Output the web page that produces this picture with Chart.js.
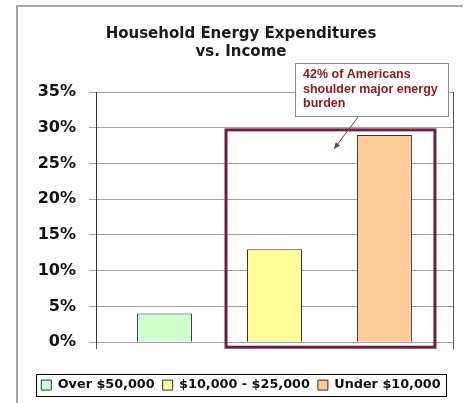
<!DOCTYPE html>
<html><head><meta charset="utf-8">
<script src="https://cdn.jsdelivr.net/npm/chart.js@4/dist/chart.umd.min.js"></script>
<style>html,body{margin:0;padding:0;background:#fff;}#wrap{width:465px;height:403px;}</style>
</head><body><div id="wrap"><canvas id="c" width="465" height="403"></canvas></div>
<script>
const categories = [''];
const seriesNames = ['Over $50,000', '$10,000 - $25,000', 'Under $10,000'];
const seriesValues = [[4], [13], [29]];
const seriesColors = ['#ccffcc', '#ffff99', '#ffcc99'];
const yMin = 0, yMax = 35, yStep = 5;
const titleLines = ['Household Energy Expenditures', 'vs. Income'];
const noteLines = ['42% of Americans', 'shoulder major energy', 'burden'];

const FONT = '"DejaVu Sans", sans-serif';

const decor = {
  id: 'decor',
  beforeDraw(chart) {
    const ctx = chart.ctx;
    ctx.save();
    ctx.fillStyle = '#fff';
    ctx.fillRect(0, 0, chart.width, chart.height);
    ctx.strokeStyle = '#a8a8a8';
    ctx.lineWidth = 2;
    ctx.beginPath();
    ctx.moveTo(17, chart.height); ctx.lineTo(17, 6); ctx.lineTo(463, 6);
    ctx.stroke();
    ctx.restore();
  },
  afterDraw(chart) {
    const ctx = chart.ctx;
    const ca = chart.chartArea;
    const y = chart.scales.y;
    const b1 = chart.getDatasetMeta(1).data[0];
    const b2 = chart.getDatasetMeta(2).data[0];
    ctx.save();
    // highlight rectangle around the two lower-income bars
    const hl = b1.x - b1.width / 2 - 21;
    const hr = b2.x + b2.width / 2 + 23;
    const ht = b2.y - 5;
    const hb = y.getPixelForValue(0) + 5;
    ctx.strokeStyle = '#6e1e40';
    ctx.lineWidth = 3;
    ctx.strokeRect(hl, ht, hr - hl, hb - ht);
    // note box
    const nx = ca.right - 158, ny = ca.top - 29, nw = 153, nh = 53;
    ctx.fillStyle = '#fff';
    ctx.fillRect(nx, ny, nw, nh);
    ctx.strokeStyle = '#8c8c8c';
    ctx.lineWidth = 1;
    ctx.strokeRect(nx + 0.5, ny + 0.5, nw, nh);
    ctx.fillStyle = '#8b1c24';
    ctx.font = 'bold 12.5px "Liberation Sans", Arial, sans-serif';
    ctx.textBaseline = 'middle';
    ctx.textAlign = 'left';
    noteLines.forEach((t, i) => ctx.fillText(t, nx + 8, ny + 12 + i * 14.5));
    // arrow
    const ax0 = nx + 63, ay0 = ny + nh + 1, ax1 = nx + 39, ay1 = ny + nh + 33;
    ctx.strokeStyle = '#7a3a55';
    ctx.fillStyle = '#7a3a55';
    ctx.lineWidth = 1;
    ctx.beginPath(); ctx.moveTo(ax0, ay0); ctx.lineTo(ax1, ay1); ctx.stroke();
    const ang = Math.atan2(ay1 - ay0, ax1 - ax0);
    ctx.beginPath();
    ctx.moveTo(ax1, ay1);
    ctx.lineTo(ax1 - 7 * Math.cos(ang - 0.4), ay1 - 7 * Math.sin(ang - 0.4));
    ctx.lineTo(ax1 - 7 * Math.cos(ang + 0.4), ay1 - 7 * Math.sin(ang + 0.4));
    ctx.closePath(); ctx.fill();
    // legend border
    const hb2 = chart.legend.legendHitBoxes;
    if (hb2 && hb2.length) {
      const first = hb2[0], last = hb2[hb2.length - 1];
      const lx = Math.round(first.left - 5) + 0.5;
      const rx = Math.round(last.left + last.width + 5) + 0.5;
      const ty = Math.round(first.top - 4.5) + 0.5;
      const by = Math.round(first.top + first.height + 4.5) + 0.5;
      ctx.strokeStyle = '#000';
      ctx.lineWidth = 1;
      ctx.strokeRect(lx, ty, rx - lx, by - ty);
    }
    ctx.restore();
  }
};

const datasets = seriesNames.map((name, i) => ({
  label: name,
  data: seriesValues[i],
  backgroundColor: seriesColors[i],
  borderColor: '#333',
  borderWidth: 1,
  categoryPercentage: 0.924,
  barPercentage: 0.5,
  yAxisID: 'y'
}));

new Chart(document.getElementById('c'), {
  type: 'bar',
  data: { labels: categories, datasets },
  plugins: [decor],
  options: {
    responsive: false,
    animation: false,
    devicePixelRatio: 1,
    layout: { padding: { left: 17, right: 0, top: 0, bottom: 1.5 } },
    plugins: {
      title: {
        display: true,
        text: titleLines,
        color: '#1a1a1a',
        font: { family: FONT, size: 15, weight: 'bold', lineHeight: 1.2 },
        padding: { top: 25, bottom: 31 }
      },
      legend: {
        display: true,
        position: 'bottom',
        labels: {
          color: '#111',
          font: { family: FONT, size: 12.8, weight: 'bold' },
          boxWidth: 10,
          boxHeight: 10,
          padding: 8
        }
      },
      tooltip: { enabled: false }
    },
    scales: {
      x: {
        type: 'category',
        offset: true,
        grid: { display: true, offset: true, drawOnChartArea: true, color: '#555', tickLength: 7, lineWidth: 1 },
        border: { display: false },
        ticks: { display: false },
        afterFit(s) { s.height = 28.5; }
      },
      y: {
        position: 'left',
        min: yMin, max: yMax,
        ticks: {
          stepSize: yStep,
          padding: 13,
          color: '#111',
          font: { family: FONT, size: 16, weight: 'bold' },
          callback: v => v + '%'
        },
        grid: { color: '#a0a0a0', tickLength: 7, lineWidth: 1 },
        border: { display: true, color: '#333', width: 1 },
        afterFit(s) { s.width = 79; }
      },
      yR: {
        position: 'right',
        display: true,
        grid: { display: false },
        border: { display: false },
        ticks: { display: false },
        afterFit(s) { s.width = 12; }
      }
    }
  }
});
</script>
</body></html>
